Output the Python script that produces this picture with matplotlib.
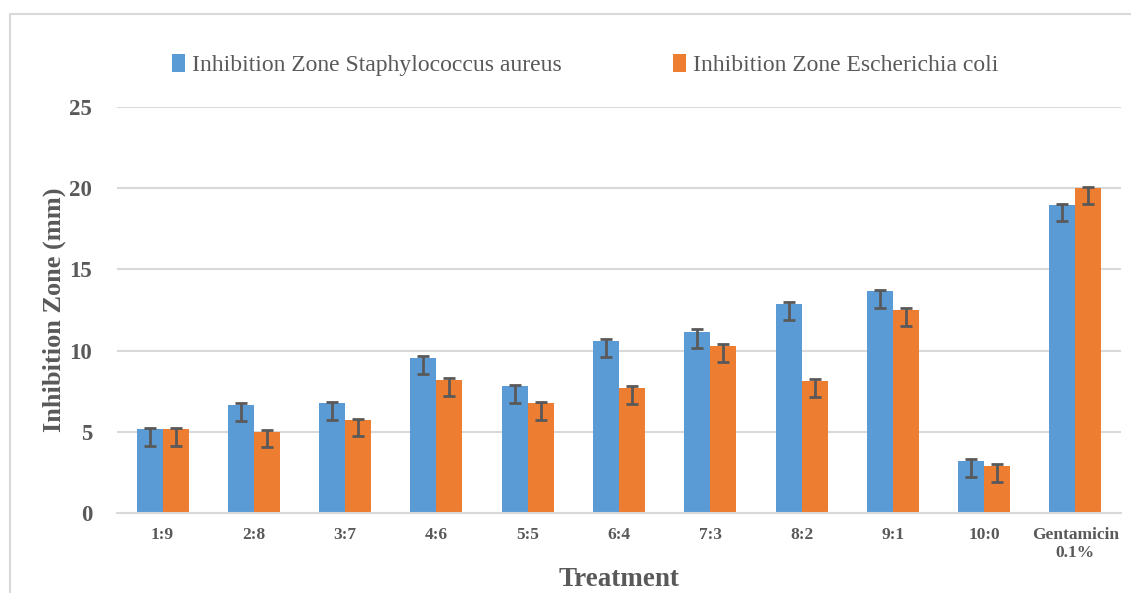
import matplotlib
matplotlib.use("Agg")
import matplotlib.pyplot as plt
import numpy as np
from matplotlib.patches import Rectangle

categories = ["1:9", "2:8", "3:7", "4:6", "5:5", "6:4", "7:3", "8:2", "9:1", "10:0", "Gentamicin\n0.1%"]
s_aureus = [5.15, 6.65, 6.75, 9.55, 7.8, 10.6, 11.15, 12.9, 13.65, 3.2, 18.95]
e_coli = [5.15, 5.0, 5.7, 8.2, 6.75, 7.7, 10.3, 8.15, 12.5, 2.9, 20.0]
s_err_minus = [1.0, 1.0, 1.0, 1.0, 1.0, 1.0, 1.0, 1.0, 1.0, 1.0, 1.0]
s_err_plus = [0.1, 0.1, 0.1, 0.1, 0.1, 0.1, 0.15, 0.1, 0.1, 0.1, 0.1]
e_err_minus = [1.0, 0.95, 0.95, 1.0, 1.0, 1.0, 1.0, 1.0, 1.0, 1.0, 1.0]
e_err_plus = [0.1, 0.1, 0.1, 0.1, 0.1, 0.1, 0.1, 0.1, 0.1, 0.1, 0.1]
series_names = ["Inhibition Zone Staphylococcus aureus", "Inhibition Zone Escherichia coli"]
yticks = [0, 5, 10, 15, 20, 25]

BLUE = "#5B9BD5"
ORANGE = "#ED7D31"
GRID = "#D9D9D9"
TXT = "#595959"
ERR = "#595959"

plt.rcParams["font.family"] = ["Liberation Serif", "DejaVu Serif"]

fig = plt.figure(figsize=(11.31, 5.93), dpi=100)
# chart area border
fig.patches.append(Rectangle((10 / 1131, -0.1), 1.2, 1 - 14 / 593 + 0.1, transform=fig.transFigure,
                             fill=False, edgecolor=GRID, linewidth=1.5, zorder=0))

ax = fig.add_axes([117 / 1131, 1 - 513 / 593, (1121 - 117) / 1131, (513 - 107) / 593])
x = np.arange(len(categories))
w = 0.285
ax.bar(x - w / 2, s_aureus, w, color=BLUE, label=series_names[0], zorder=2)
ax.bar(x + w / 2, e_coli, w, color=ORANGE, label=series_names[1], zorder=2)
ax.errorbar(x - w / 2, s_aureus, yerr=[s_err_minus, s_err_plus], fmt="none", ecolor=ERR,
            elinewidth=2, capsize=4.3, capthick=2, zorder=3)
ax.errorbar(x + w / 2, e_coli, yerr=[e_err_minus, e_err_plus], fmt="none", ecolor=ERR,
            elinewidth=2, capsize=4.3, capthick=2, zorder=3)

ax.set_xlim(-0.5, len(categories) - 0.5)
ax.set_ylim(0, 25)
ax.set_yticks(yticks)
ax.set_xticks(x)
ax.set_xticklabels(categories, fontsize=12.5, fontweight="bold", color=TXT, linespacing=1.2)
ax.set_yticklabels([str(t) for t in yticks], fontsize=16.5, fontweight="bold", color=TXT)
ax.tick_params(axis="both", length=0)
ax.tick_params(axis="y", pad=18)
ax.tick_params(axis="x", pad=10)
ax.yaxis.grid(True, color=GRID, linewidth=1.5, zorder=0)
ax.set_axisbelow(True)
for s in ["top", "right", "left"]:
    ax.spines[s].set_visible(False)
ax.spines["bottom"].set_color(GRID)
ax.spines["bottom"].set_linewidth(1.5)

ax.set_ylabel("Inhibition Zone (mm)", fontsize=19, fontweight="bold", color=TXT, labelpad=2)
ax.set_xlabel("Treatment", fontsize=19.5, fontweight="bold", color=TXT, labelpad=4)

leg = ax.legend(loc="upper left", bbox_to_anchor=(151 / 1131, 1 - 33 / 593), bbox_transform=fig.transFigure,
                ncol=2, frameon=False, fontsize=17, handlelength=0.55, handleheight=0.8,
                handletextpad=0.3, columnspacing=4.7)
for t in leg.get_texts():
    t.set_color(TXT)

fig.savefig("out.png", dpi=100)
